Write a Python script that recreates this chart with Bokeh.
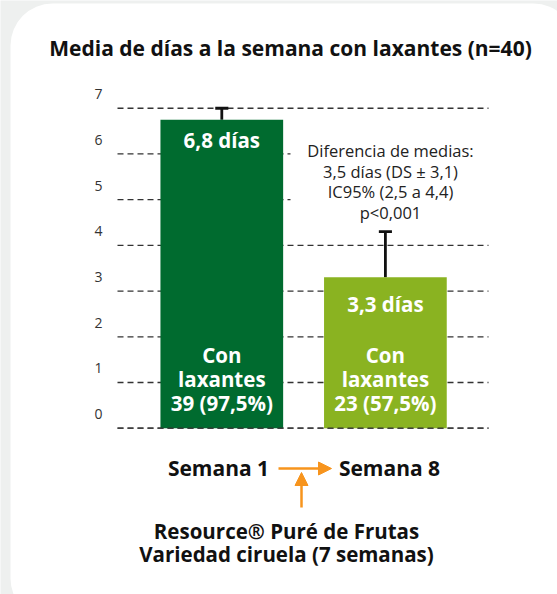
from bokeh.plotting import figure
from bokeh.models import Range1d, BoxAnnotation, Arrow, NormalHead
from bokeh.core.properties import value
from bokeh.embed import file_html
from bokeh.resources import INLINE

# ---- data ----
title = "Media de días a la semana con laxantes (n=40)"
categories = ["Semana 1", "Semana 8"]
means = [6.75, 3.3]
upper = [7.0, 4.3]
mean_labels = ["6,8 días", "3,3 días"]
con_line1 = ["Con", "Con"]
con_line2 = ["laxantes", "laxantes"]
count_labels = ["39 (97,5%)", "23 (57,5%)"]
bar_colors = ["#006b2f", "#8ab321"]
yticks = [0, 1, 2, 3, 4, 5, 6, 7]
note_lines = ["Diferencia de medias:", "3,5 días (DS ± 3,1)", "IC95% (2,5 a 4,4)", "p<0,001"]
product_lines = ["Resource® Puré de Frutas", "Variedad ciruela (7 semanas)"]

W, H = 557, 594
FONT = "Open Sans"


def px2x(px):
    return 1 + (px - 221.3) / 163.6


def py2y(py):
    return (427.7 - py) / 45.71


xs = [1, 2]

p = figure(width=W, height=H, output_backend="svg", toolbar_location=None,
           x_range=Range1d(px2x(0), px2x(W)), y_range=Range1d(py2y(H), py2y(0)),
           x_axis_location=None, y_axis_location=None, min_border=0,
           background_fill_color="#eef0ef", border_fill_color="#eef0ef",
           outline_line_color=None)
p.grid.visible = False

# white rounded card
card = BoxAnnotation(left=px2x(10), right=px2x(575), top=py2y(3), bottom=py2y(620),
                     fill_color="white", fill_alpha=1, line_color=None, border_radius=42,
                     level="underlay")
p.add_layout(card)

# dashed gridlines (lines at 5 and 6 stop before the note)
gx0 = px2x(117)
gx1 = [px2x(290) if t in (5, 6) else px2x(488) for t in yticks]
p.segment(x0=[gx0] * len(yticks), x1=gx1, y0=yticks, y1=yticks,
          line_color="#333333", line_width=1.3, line_dash="6 4")

# tick labels
p.text(x=[px2x(98)] * len(yticks), y=yticks, text=[str(t) for t in yticks],
       y_offset=-14, text_align="center", text_baseline="middle",
       text_font=value(FONT), text_font_size="14px", text_color="#333333")

# error bars
p.segment(x0=xs, x1=xs, y0=means, y1=upper, line_color="#111111", line_width=2.8)
cap = 0.04
p.segment(x0=[x - cap for x in xs], x1=[x + cap for x in xs], y0=upper, y1=upper,
          line_color="#111111", line_width=2.8)

# bars
p.vbar(x=xs, top=means, bottom=0, width=0.75, fill_color=bar_colors, line_color=None)

# zero line over bars
p.segment(x0=[gx0], x1=[px2x(488)], y0=[0], y1=[0], line_color="#333333", line_width=1.3,
          line_dash="6 4")

# labels inside bars
p.text(x=xs, y=means, text=mean_labels, y_offset=[20, 27], text_align="center",
       text_baseline="middle", text_font=value(FONT), text_font_style="bold",
       text_font_size="20.5px", text_color="white")
for lines, off in ((con_line1, -73), (con_line2, -49), (count_labels, -25)):
    p.text(x=xs, y=[0, 0], text=lines, y_offset=off, text_align="center",
           text_baseline="middle", text_font=value(FONT), text_font_style="bold",
           text_font_size="20.5px", text_color="white")

# note
for i, line in enumerate(note_lines):
    p.text(x=[px2x(390)], y=[py2y(150 + i * 20.5)], text=[line], text_align="center",
           text_baseline="middle", text_font=value(FONT), text_font_size="16.5px",
           text_color="#222222")

# title
p.text(x=[px2x(290)], y=[py2y(47)], text=[title], text_align="center",
       text_baseline="middle", text_font=value(FONT), text_font_style="bold",
       text_font_size="21px", text_color="#111111")

# category labels
p.text(x=[px2x(218), px2x(389)], y=[py2y(467)] * 2, text=categories, text_align="center",
       text_baseline="middle", text_font=value(FONT), text_font_style="bold",
       text_font_size="21px", text_color="#111111")

# arrows
orange = "#f7941d"
p.add_layout(Arrow(x_start=px2x(278), y_start=py2y(468), x_end=px2x(331), y_end=py2y(468),
                   line_color=orange, line_width=2.5,
                   end=NormalHead(size=13, fill_color=orange, line_color=orange)))
p.add_layout(Arrow(x_start=px2x(301), y_start=py2y(507), x_end=px2x(301), y_end=py2y(472),
                   line_color=orange, line_width=2.5,
                   end=NormalHead(size=13, fill_color=orange, line_color=orange)))

# product text
for i, line in enumerate(product_lines):
    p.text(x=[px2x(286)], y=[py2y(530 + i * 23)], text=[line], text_align="center",
           text_baseline="middle", text_font=value(FONT), text_font_style="bold",
           text_font_size="20.5px", text_color="#111111")

open("out.html", "w").write(file_html(p, INLINE))
